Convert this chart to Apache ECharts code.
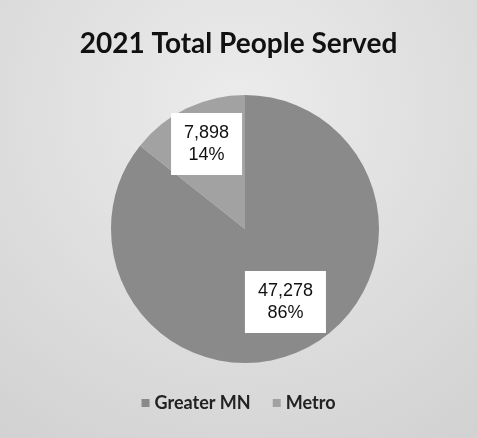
<!DOCTYPE html>
<html>
<head>
<meta charset="utf-8">
<script src="https://cdn.jsdelivr.net/npm/echarts@6/dist/echarts.min.js"></script>
<style>
  html, body { margin: 0; padding: 0; }
  #chart { width: 477px; height: 438px; }
</style>
</head>
<body>
<div id="chart"></div>
<script>
// data
var categories = ["Greater MN", "Metro"];
var values = [47278, 7898];
var colors = ["#8a8a8a", "#a2a2a2"];
// nudges so the labels sit where the original's "best fit" put them
var labelOffsets = [[10, 10], [-8, -22]];

var myChart = echarts.init(document.getElementById("chart"));

var total = values.reduce(function (a, b) { return a + b; }, 0);

myChart.setOption({
  backgroundColor: {
    type: "radial",
    x: 0.5, y: 0.25, r: 0.9,
    colorStops: [
      { offset: 0, color: "#ececec" },
      { offset: 1, color: "#d2d2d2" }
    ]
  },
  color: colors,
  title: {
    text: "2021 Total People Served",
    left: "center",
    top: 25,
    textStyle: {
      fontFamily: "Lato",
      fontWeight: "bold",
      fontSize: 28,
      color: "#111"
    }
  },
  legend: {
    bottom: 21,
    left: "center",
    icon: "rect",
    itemWidth: 8,
    itemHeight: 8,
    itemGap: 22,
    textStyle: { fontFamily: "Lato", fontWeight: "bold", fontSize: 18, color: "#222" },
    data: categories
  },
  series: [
    {
      type: "pie",
      center: [245, 229],
      radius: [0, 134],
      startAngle: 90,
      clockwise: true,
      animation: false,
      label: {
        show: true,
        position: "inside",
        fontFamily: "Liberation Sans",
        fontSize: 18,
        lineHeight: 22,
        color: "#111",
        backgroundColor: "#fff",
        padding: [9, 13],
        formatter: function (p) {
          var pct = Math.round(p.value / total * 100);
          return p.value.toLocaleString("en-US") + "\n" + pct + "%";
        }
      },
      labelLine: { show: false },
      itemStyle: { borderWidth: 0 },
      data: categories.map(function (name, i) {
        return {
          name: name,
          value: values[i],
          label: { offset: labelOffsets[i] }
        };
      })
    }
  ]
});

window.onresize = function () {
  myChart.resize();
};
</script>
</body>
</html>
